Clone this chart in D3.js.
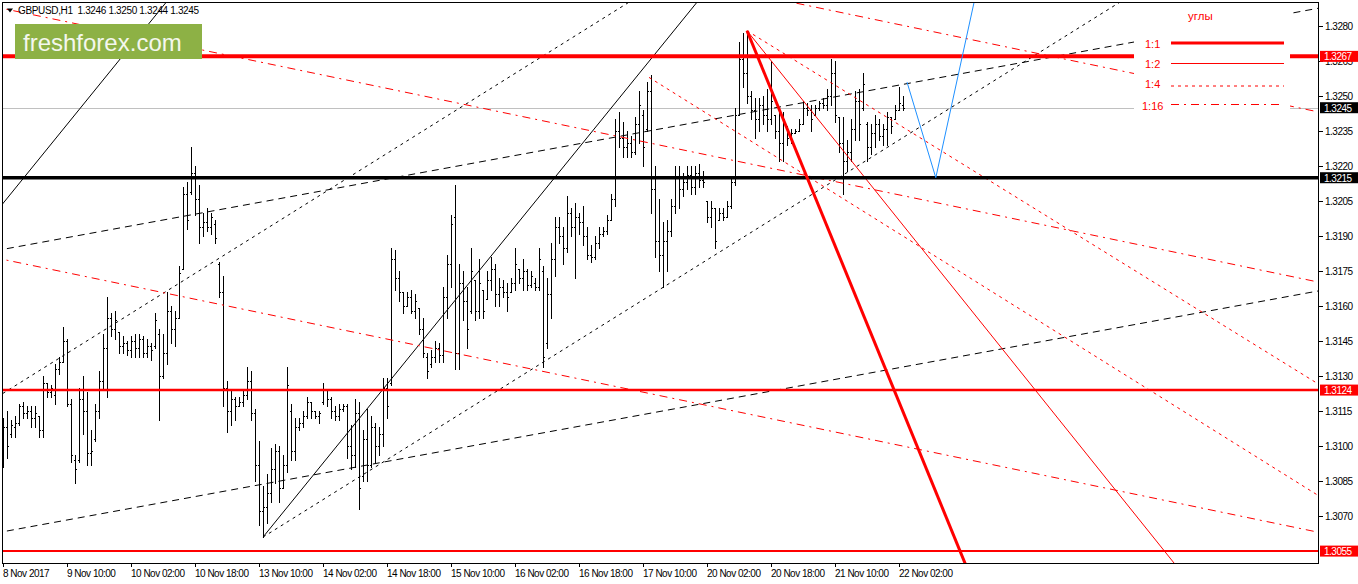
<!DOCTYPE html>
<html><head><meta charset="utf-8">
<script src="https://cdn.jsdelivr.net/npm/d3@7/dist/d3.min.js"></script>
<style>
html,body{margin:0;padding:0;background:#fff;}
svg{display:block;}
text{font-family:"Liberation Sans",Arial,sans-serif;}
</style></head><body>
<svg id="c" width="1358" height="584"></svg>
<script>
// ---------------- DATA ----------------
const symbolTitle = "GBPUSD,H1";
const opens = [1.3098,1.3108,1.3105,1.3108,1.3110,1.3117,1.3114,1.3115,1.3112,1.3113,1.3107,1.3127,1.3123,1.3122,1.3133,1.3136,1.3145,1.3118,1.3094,1.3094,1.3120,1.3115,1.3097,1.3103,1.3115,1.3128,1.3142,1.3155,1.3150,1.3149,1.3143,1.3144,1.3141,1.3145,1.3142,1.3146,1.3140,1.3143,1.3143,1.3148,1.3130,1.3140,1.3158,1.3150,1.3155,1.3176,1.3208,1.3209,1.3217,1.3206,1.3194,1.3196,1.3194,1.3195,1.3178,1.3166,1.3125,1.3115,1.3120,1.3117,1.3119,1.3122,1.3128,1.3114,1.3092,1.3072,1.3074,1.3080,1.3090,1.3098,1.3082,1.3092,1.3115,1.3098,1.3108,1.3110,1.3113,1.3119,1.3115,1.3113,1.3119,1.3124,1.3120,1.3115,1.3113,1.3116,1.3117,1.3100,1.3096,1.3114,1.3087,1.3103,1.3092,1.3108,1.3100,1.3105,1.3125,1.3127,1.3180,1.3172,1.3166,1.3160,1.3164,1.3158,1.3159,1.3150,1.3138,1.3135,1.3138,1.3142,1.3139,1.3164,1.3178,1.3198,1.3140,1.3170,1.3162,1.3158,1.3171,1.3158,1.3167,1.3163,1.3171,1.3176,1.3165,1.3168,1.3166,1.3166,1.3170,1.3176,1.3172,1.3175,1.3169,1.3170,1.3168,1.3175,1.3144,1.3165,1.3180,1.3194,1.3190,1.3185,1.3200,1.3194,1.3198,1.3196,1.3190,1.3182,1.3181,1.3187,1.3191,1.3192,1.3197,1.3206,1.3235,1.3232,1.3228,1.3230,1.3226,1.3238,1.3242,1.3236,1.3252,1.3210,1.3188,1.3182,1.3188,1.3192,1.3203,1.3215,1.3210,1.3213,1.3216,1.3211,1.3217,1.3214,1.3205,1.3198,1.3202,1.3197,1.3200,1.3198,1.3203,1.3213,1.3242,1.3266,1.3260,1.3250,1.3244,1.3240,1.3246,1.3242,1.3240,1.3242,1.3235,1.3230,1.3237,1.3232,1.3234,1.3235,1.3238,1.3245,1.3244,1.3242,1.3245,1.3247,1.3246,1.3250,1.3260,1.3241,1.3230,1.3222,1.3226,1.3236,1.3248,1.3245,1.3238,1.3228,1.3234,1.3238,1.3233,1.3236,1.3241,1.3240,1.3244,1.3246];
const highs = [1.3112,1.3115,1.3111,1.3113,1.3118,1.3119,1.3117,1.3117,1.3117,1.3113,1.3130,1.3127,1.3126,1.3135,1.3138,1.3151,1.3146,1.3120,1.3096,1.3125,1.3130,1.3123,1.3107,1.3118,1.3132,1.3148,1.3164,1.3157,1.3158,1.3149,1.3147,1.3145,1.3147,1.3148,1.3148,1.3147,1.3146,1.3144,1.3157,1.3150,1.3148,1.3166,1.3160,1.3158,1.3177,1.3211,1.3213,1.3228,1.3220,1.3212,1.3200,1.3202,1.3200,1.3197,1.3179,1.3173,1.3128,1.3124,1.3121,1.3121,1.3124,1.3134,1.3132,1.3116,1.3102,1.3083,1.3088,1.3099,1.3101,1.3100,1.3096,1.3134,1.3118,1.3112,1.3112,1.3115,1.3121,1.3119,1.3115,1.3115,1.3127,1.3124,1.3121,1.3117,1.3118,1.3118,1.3118,1.3109,1.3120,1.3119,1.3107,1.3116,1.3113,1.3110,1.3108,1.3129,1.3129,1.3185,1.3184,1.3175,1.3166,1.3166,1.3167,1.3165,1.3159,1.3155,1.3140,1.3141,1.3145,1.3144,1.3168,1.3182,1.3199,1.3212,1.3178,1.3175,1.3168,1.3185,1.3171,1.3180,1.3167,1.3175,1.3181,1.3178,1.3172,1.3171,1.3170,1.3172,1.3185,1.3176,1.3180,1.3176,1.3175,1.3172,1.3185,1.3177,1.3172,1.3187,1.3198,1.3198,1.3194,1.3207,1.3202,1.3204,1.3200,1.3203,1.3194,1.3186,1.3190,1.3194,1.3194,1.3199,1.3208,1.3240,1.3243,1.3239,1.3235,1.3233,1.3241,1.3252,1.3244,1.3256,1.3259,1.3220,1.3206,1.3196,1.3197,1.3206,1.3220,1.3220,1.3217,1.3220,1.3220,1.3220,1.3221,1.3218,1.3205,1.3205,1.3202,1.3202,1.3202,1.3205,1.3215,1.3245,1.3273,1.3277,1.3278,1.3252,1.3249,1.3249,1.3250,1.3253,1.3265,1.3242,1.3243,1.3243,1.3237,1.3236,1.3236,1.3240,1.3248,1.3247,1.3246,1.3246,1.3248,1.3249,1.3253,1.3266,1.3265,1.3241,1.3241,1.3231,1.3240,1.3252,1.3253,1.3260,1.3239,1.3238,1.3242,1.3240,1.3238,1.3243,1.3241,1.3246,1.3254,1.3250];
const lows = [1.3091,1.3095,1.3104,1.3104,1.3109,1.3112,1.3112,1.3108,1.3108,1.3104,1.3104,1.3121,1.3121,1.3118,1.3131,1.3136,1.3117,1.3093,1.3084,1.3093,1.3105,1.3092,1.3092,1.3102,1.3112,1.3124,1.3121,1.3147,1.3146,1.3140,1.3140,1.3139,1.3138,1.3138,1.3138,1.3138,1.3138,1.3137,1.3142,1.3111,1.3129,1.3135,1.3144,1.3143,1.3155,1.3176,1.3193,1.3208,1.3199,1.3187,1.3190,1.3192,1.3191,1.3187,1.3164,1.3117,1.3106,1.3109,1.3111,1.3117,1.3117,1.3120,1.3111,1.3085,1.3066,1.3061,1.3067,1.3076,1.3084,1.3076,1.3082,1.3089,1.3094,1.3094,1.3107,1.3108,1.3112,1.3112,1.3112,1.3110,1.3118,1.3117,1.3112,1.3111,1.3111,1.3115,1.3095,1.3090,1.3091,1.3073,1.3085,1.3085,1.3091,1.3093,1.3096,1.3100,1.3112,1.3126,1.3167,1.3162,1.3157,1.3160,1.3157,1.3155,1.3148,1.3138,1.3129,1.3134,1.3136,1.3136,1.3136,1.3155,1.3168,1.3133,1.3133,1.3154,1.3142,1.3157,1.3154,1.3155,1.3155,1.3163,1.3167,1.3160,1.3160,1.3164,1.3158,1.3166,1.3167,1.3170,1.3167,1.3167,1.3168,1.3167,1.3167,1.3134,1.3142,1.3155,1.3173,1.3187,1.3178,1.3183,1.3190,1.3172,1.3191,1.3186,1.3180,1.3179,1.3180,1.3185,1.3190,1.3191,1.3197,1.3203,1.3228,1.3224,1.3224,1.3224,1.3225,1.3230,1.3220,1.3235,1.3200,1.3181,1.3175,1.3168,1.3175,1.3190,1.3200,1.3202,1.3207,1.3210,1.3208,1.3208,1.3211,1.3211,1.3196,1.3194,1.3185,1.3197,1.3197,1.3198,1.3202,1.3212,1.3242,1.3254,1.3247,1.3240,1.3232,1.3235,1.3238,1.3235,1.3238,1.3232,1.3222,1.3222,1.3229,1.3230,1.3234,1.3235,1.3238,1.3242,1.3235,1.3242,1.3244,1.3245,1.3244,1.3246,1.3239,1.3226,1.3208,1.3218,1.3222,1.3231,1.3231,1.3244,1.3222,1.3225,1.3228,1.3231,1.3229,1.3229,1.3234,1.3240,1.3244,1.3244];
const closes = [1.3108,1.3100,1.3109,1.3110,1.3117,1.3114,1.3115,1.3112,1.3114,1.3107,1.3127,1.3123,1.3125,1.3133,1.3136,1.3145,1.3118,1.3096,1.3090,1.3120,1.3115,1.3097,1.3098,1.3115,1.3128,1.3142,1.3155,1.3150,1.3154,1.3143,1.3144,1.3141,1.3145,1.3142,1.3146,1.3140,1.3143,1.3141,1.3154,1.3130,1.3140,1.3158,1.3150,1.3155,1.3174,1.3208,1.3197,1.3217,1.3206,1.3194,1.3196,1.3194,1.3198,1.3189,1.3166,1.3125,1.3115,1.3120,1.3117,1.3119,1.3122,1.3128,1.3114,1.3092,1.3072,1.3074,1.3080,1.3090,1.3098,1.3082,1.3092,1.3126,1.3098,1.3108,1.3110,1.3113,1.3119,1.3115,1.3113,1.3114,1.3124,1.3120,1.3115,1.3113,1.3116,1.3117,1.3100,1.3096,1.3114,1.3082,1.3103,1.3092,1.3108,1.3100,1.3105,1.3125,1.3117,1.3180,1.3172,1.3166,1.3160,1.3164,1.3158,1.3162,1.3150,1.3140,1.3132,1.3138,1.3142,1.3139,1.3164,1.3178,1.3195,1.3140,1.3170,1.3162,1.3150,1.3175,1.3158,1.3170,1.3158,1.3171,1.3176,1.3165,1.3168,1.3166,1.3164,1.3170,1.3178,1.3172,1.3175,1.3169,1.3173,1.3168,1.3180,1.3138,1.3165,1.3180,1.3194,1.3190,1.3185,1.3200,1.3194,1.3198,1.3196,1.3190,1.3182,1.3181,1.3187,1.3191,1.3192,1.3197,1.3206,1.3235,1.3232,1.3228,1.3230,1.3226,1.3238,1.3246,1.3228,1.3252,1.3210,1.3188,1.3182,1.3188,1.3192,1.3203,1.3215,1.3210,1.3213,1.3216,1.3211,1.3217,1.3214,1.3213,1.3198,1.3202,1.3188,1.3200,1.3198,1.3203,1.3213,1.3242,1.3266,1.3260,1.3250,1.3244,1.3240,1.3246,1.3242,1.3240,1.3248,1.3235,1.3230,1.3240,1.3232,1.3234,1.3235,1.3238,1.3245,1.3244,1.3240,1.3245,1.3247,1.3246,1.3250,1.3260,1.3242,1.3230,1.3222,1.3226,1.3236,1.3248,1.3238,1.3255,1.3228,1.3234,1.3238,1.3233,1.3236,1.3241,1.3237,1.3244,1.3247,1.3245];

const priceTicks = [1.3070,1.3085,1.3100,1.3115,1.3130,1.3145,1.3160,1.3175,1.3190,1.3205,1.3220,1.3235,1.3250,1.3265,1.3280];
const timeTickBars = [0,16,32,48,64,80,96,112,128,144,160,176,192,208,224];
const timeTickLabels = ["8 Nov 2017","9 Nov 10:00","10 Nov 02:00","10 Nov 18:00","13 Nov 10:00","14 Nov 02:00","14 Nov 18:00","15 Nov 10:00","16 Nov 02:00","16 Nov 18:00","17 Nov 10:00","20 Nov 02:00","20 Nov 18:00","21 Nov 10:00","22 Nov 02:00"];

// horizontal levels
const resistanceLevel = 1.3267;
const pivotLevel = 1.3215;
const supportLevels = [1.3124, 1.3055];

// trend lines: [bar, price] anchor pairs
const channelMain = [[65,1.3061],[113,1.31624]];
const channelUpper = [[0,1.3204],[40,1.32885]];
const supportRayA = [[65,1.3061],[165,1.3168]];
const parallelD = [[0,1.31226],[100,1.32297]];
const risingB = [[0,1.31843],[225,1.3255]];
const risingC = [[0,1.30633],[225,1.31339]];
const fanOrigin = [186,1.3278];
const fanBar = 216;
const fan11Price = 1.31524, fan12Price = 1.32139, fan14Price = 1.32462;
const fallingF = [[161.5,1.3258],[225,1.3190]];
const fallingR1 = [[221,1.32817],[321,1.32460]];
const fallingR2 = [[0,1.32875],[225,1.32073]];
const fallingR3 = [[0,1.3180],[225,1.3100]];
const forecastBars = [226,233.2,243];
const forecastPrices = [1.3256,1.3215,1.3292];

const legendTitle = "углы";
const legendLabels = ["1:1","1:2","1:4","1:16"];

// ---------------- DRAW ----------------
const svg = d3.select("#c");
const L = 2, R = 1319, T = 2, B = 563;
const x = d3.scaleLinear().domain([-0.25, 329]).range([L, R]);
const y = d3.scaleLinear().domain([1.30499, 1.32903]).range([B, T]);
const FONT = '"Liberation Sans",Arial,sans-serif';

svg.append("rect").attr("width",1358).attr("height",584).attr("fill","#fff");
svg.append("defs").append("clipPath").attr("id","plot")
  .append("rect").attr("x",L).attr("y",T).attr("width",R-L).attr("height",B-T);
const plot = svg.append("g").attr("clip-path","url(#plot)");

// bid line
const last = closes.length-1;
plot.append("line").attr("x1",L).attr("x2",R)
  .attr("y1",Math.round(y(closes[last]))+0.5).attr("y2",Math.round(y(closes[last]))+0.5)
  .attr("stroke","#c0c0c0").attr("stroke-width",1);

// bars
const bars = plot.append("g").attr("stroke","#000").attr("stroke-width",1).attr("shape-rendering","crispEdges");
opens.forEach((o,i)=>{
  const cx = Math.round(x(i))+0.5;
  const yh = Math.round(y(highs[i])), yl = Math.round(y(lows[i]));
  bars.append("line").attr("x1",cx).attr("x2",cx).attr("y1",yh).attr("y2",yl+1);
  const yo = Math.round(y(o))+0.5, yc = Math.round(y(closes[i]))+0.5;
  bars.append("line").attr("x1",cx-1.5).attr("x2",cx).attr("y1",yo).attr("y2",yo);
  bars.append("line").attr("x1",cx).attr("x2",cx+1.5).attr("y1",yc).attr("y2",yc);
});

function drawLine(a, b, opts){
  const x1=x(a[0]), y1=y(a[1]), x2=x(b[0]), y2=y(b[1]);
  const dx=x2-x1, dy=y2-y1;
  const t0 = opts.left ? (-300-x1)/dx : 0;
  const t1 = (1700-x1)/dx;
  plot.append("line")
    .attr("x1",x1+dx*t0).attr("y1",y1+dy*t0)
    .attr("x2",x1+dx*t1).attr("y2",y1+dy*t1)
    .attr("stroke",opts.color).attr("stroke-width",opts.w||1)
    .attr("stroke-dasharray",opts.dash||null);
}
const DOT="3,4", DASH="7,5", DASHDOT="8,5,2,5";
drawLine(risingB[0],risingB[1],{left:true,color:"#000",dash:DASH});
drawLine(risingC[0],risingC[1],{left:true,color:"#000",dash:DASH});
drawLine(parallelD[0],parallelD[1],{left:true,color:"#000",dash:DOT});
drawLine(supportRayA[0],supportRayA[1],{left:false,color:"#000",dash:DOT});
drawLine(channelMain[0],channelMain[1],{left:false,color:"#000"});
drawLine(channelUpper[0],channelUpper[1],{left:true,color:"#000"});
drawLine(fallingR1[0],fallingR1[1],{left:true,color:"#f00",dash:DASHDOT});
drawLine(fallingR2[0],fallingR2[1],{left:true,color:"#f00",dash:DASHDOT});
drawLine(fallingR3[0],fallingR3[1],{left:true,color:"#f00",dash:DASHDOT});
drawLine(fallingF[0],fallingF[1],{left:false,color:"#f00",dash:DOT});
drawLine(fanOrigin,[fanBar,fan14Price],{left:false,color:"#f00",dash:DOT});
drawLine(fanOrigin,[fanBar,fan12Price],{left:false,color:"#f00",w:1});

// horizontal levels
function hline(p,color,w){
  plot.append("line").attr("x1",L).attr("x2",R).attr("y1",y(p)).attr("y2",y(p))
    .attr("stroke",color).attr("stroke-width",w);
}
hline(pivotLevel,"#000",3.5);
hline(supportLevels[0],"#f00",2.5);
hline(supportLevels[1],"#f00",2);
hline(resistanceLevel,"#f00",4);
drawLine(fanOrigin,[fanBar,fan11Price],{left:false,color:"#f00",w:3});

// forecast path
plot.append("path")
  .attr("d", d3.line().x(d=>x(d[0])).y(d=>y(d[1]))(forecastBars.map((b,i)=>[b,forecastPrices[i]])))
  .attr("fill","none").attr("stroke","#1e90ff").attr("stroke-width",1);

// legend box
svg.append("rect").attr("x",1134).attr("y",3).attr("width",156).attr("height",111).attr("fill","#fff");
svg.append("text").attr("x",1188).attr("y",20).attr("fill","#f00").attr("font-size",11.5).text(legendTitle);
const legY = [43,63.5,86,104.5], legTY=[47.5,67.5,87.5,109.5], legTX=[1145,1145,1145,1142];
const legStyles = [{w:3},{w:1},{w:1,dash:DOT},{w:1,dash:DASHDOT}];
legendLabels.forEach((lab,i)=>{
  svg.append("text").attr("x",legTX[i]).attr("y",legTY[i]).attr("fill","#f00").attr("font-size",11).text(lab);
  svg.append("line").attr("x1",1171).attr("x2",1284).attr("y1",legY[i]).attr("y2",legY[i])
    .attr("stroke","#f00").attr("stroke-width",legStyles[i].w).attr("stroke-dasharray",legStyles[i].dash||null);
});

// logo
svg.append("rect").attr("x",15).attr("y",24).attr("width",187).attr("height",35).attr("fill","#8db145");
svg.append("text").attr("x",23).attr("y",51).attr("fill","#f4f7ee")
  .attr("font-family",'"Open Sans",sans-serif').attr("font-size",24).text("freshforex.com");

// header
svg.append("path").attr("d","M7,8.5 L13,8.5 L10,12.5 Z").attr("fill","#000");
svg.append("text").attr("x",18).attr("y",14).attr("font-size",10).attr("letter-spacing",-0.35)
  .attr("fill","#000").attr("xml:space","preserve")
  .text(symbolTitle+"  "+[opens[last],highs[last],lows[last],closes[last]].map(v=>v.toFixed(4)).join(" "));

// border
svg.append("rect").attr("x",L+0.5).attr("y",T+0.5).attr("width",R-L-1).attr("height",B-T)
  .attr("fill","none").attr("stroke","#000").attr("stroke-width",1).attr("shape-rendering","crispEdges");

// right axis
const ax = svg.append("g").attr("font-size",10).attr("letter-spacing",-0.5);
priceTicks.forEach(p=>{
  const yy = Math.round(y(p))+0.5;
  ax.append("line").attr("x1",R).attr("x2",R+4).attr("y1",yy).attr("y2",yy).attr("stroke","#000").attr("shape-rendering","crispEdges");
  ax.append("text").attr("x",1325).attr("y",yy+3.5).attr("fill","#000").text(p.toFixed(4));
});
function priceBox(p,bg){
  const yy = y(p);
  ax.append("rect").attr("x",1320).attr("y",yy-5.5).attr("width",38).attr("height",11).attr("fill",bg);
  ax.append("text").attr("x",1324).attr("y",yy+3.8).attr("fill","#fff").text(p.toFixed(4));
}
priceBox(resistanceLevel,"#f00");
priceBox(closes[last],"#000");
priceBox(pivotLevel,"#000");
priceBox(supportLevels[0],"#f00");
priceBox(supportLevels[1],"#f00");

// bottom axis
const bx = svg.append("g").attr("font-size",10).attr("letter-spacing",-0.5);
timeTickBars.forEach((b,i)=>{
  const xx = Math.round(x(b))+0.5;
  bx.append("line").attr("x1",xx).attr("x2",xx).attr("y1",B).attr("y2",B+4).attr("stroke","#000").attr("shape-rendering","crispEdges");
  bx.append("text").attr("x",xx-0.5).attr("y",577).attr("fill","#000").text(timeTickLabels[i]);
});
</script>
</body></html>
